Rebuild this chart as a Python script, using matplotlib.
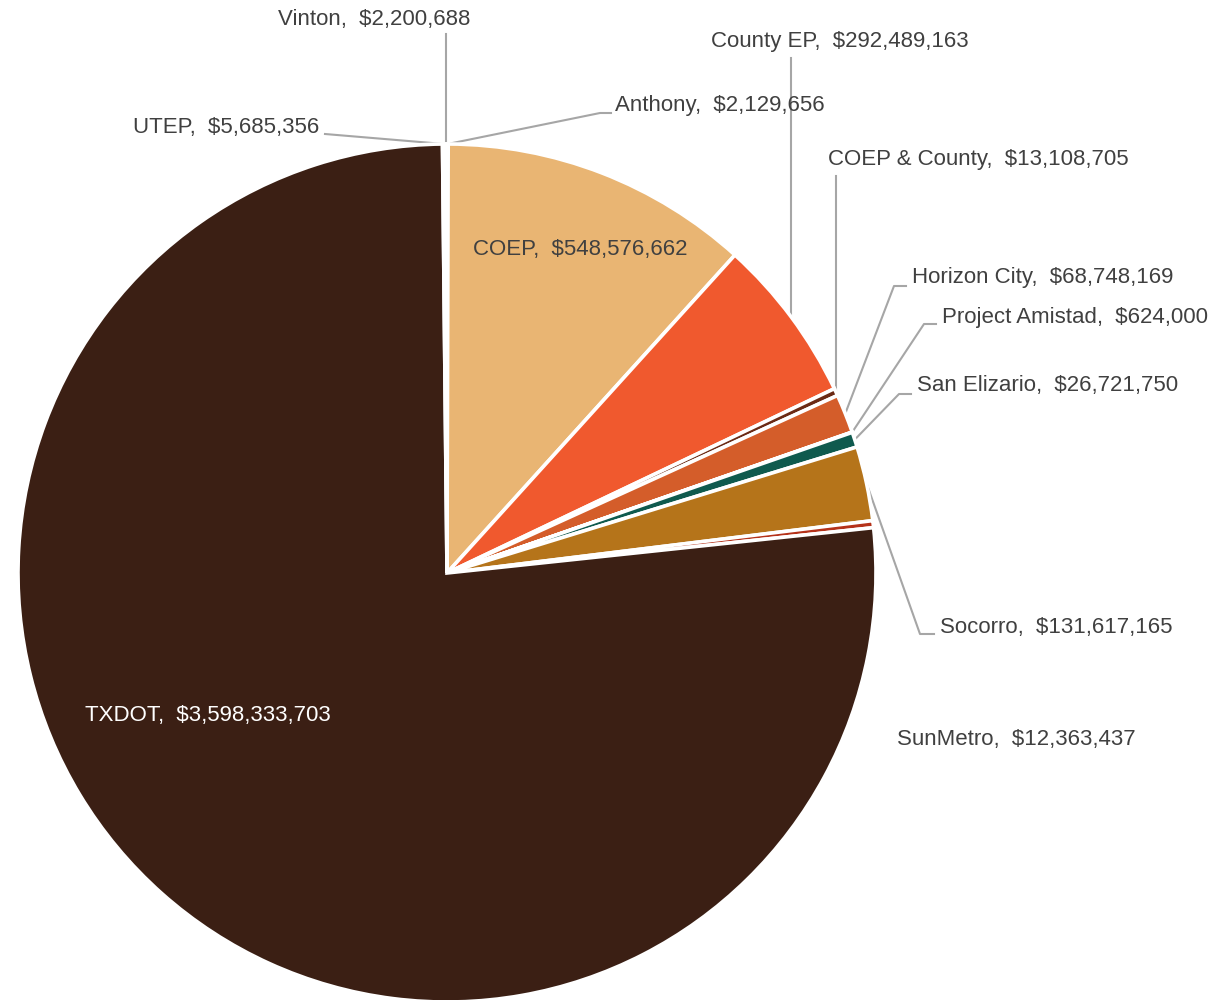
import numpy as np
import matplotlib.pyplot as plt

agencies = ["Anthony", "COEP", "County EP", "COEP & County", "Horizon City",
            "Project Amistad", "San Elizario", "Socorro", "SunMetro", "TXDOT",
            "UTEP", "Vinton"]
amounts = [2129656, 548576662, 292489163, 13108705, 68748169,
           624000, 26721750, 131617165, 12363437, 3598333703,
           5685356, 2200688]
colors = ["#C9853A", "#E9B573", "#F0592E", "#6B2A15", "#D45D2A",
          "#8C5A2B", "#0F5A4E", "#B5741A", "#B5321A", "#3B1F14",
          "#7A3B1E", "#E08A4A"]

W, H = 1222, 1000
fig = plt.figure(figsize=(W / 100, H / 100), dpi=100)
ax = fig.add_axes([0, 0, 1, 1])

cx, cy, r = 447, H - 573, 429
wedges, _ = ax.pie(amounts, colors=colors, startangle=90, counterclock=False,
                   center=(cx, cy), radius=r, frame=True,
                   wedgeprops=dict(edgecolor="white", linewidth=2.6))
ax.set_xlim(0, W)
ax.set_ylim(0, H)
ax.set_aspect("equal")
ax.axis("off")


def lbl(i):
    return f"{agencies[i]},  ${amounts[i]:,.0f}"


def anchor(i):
    w = wedges[i]
    t = np.deg2rad((w.theta1 + w.theta2) / 2)
    return cx + r * np.cos(t), cy + r * np.sin(t)


txt = dict(fontsize=16, color="#404040", family="Liberation Sans", va="center")
line = dict(color="#A6A6A6", lw=1.5, zorder=0)

# label position (pixel, y from top), alignment, leader path from label side
# a None x in the path means "straight above the anchor"
layout = {
    "Vinton": ((374, 20), "center", [(None, 34)]),
    "UTEP": ((133, 128), "left", [(325, 134)]),
    "Anthony": ((615, 105), "left", [(611, 113), (600, 113)]),
    "County EP": ((840, 42), "center", [(None, 58)]),
    "COEP & County": ((828, 160), "left", [(None, 176)]),
    "Horizon City": ((912, 278), "left", [(906, 286), (894, 286)]),
    "Project Amistad": ((942, 318), "left", [(936, 324), (924, 324)]),
    "San Elizario": ((917, 386), "left", [(911, 394), (899, 394)]),
    "Socorro": ((940, 628), "left", [(934, 634), (920, 634)]),
    "SunMetro": ((897, 740), "left", []),
}

for name, ((tx, ty), ha, path) in layout.items():
    i = agencies.index(name)
    ax.text(tx, H - ty, lbl(i), ha=ha, **txt)
    if path:
        axx, ayy = anchor(i)
        pts = [(axx if px is None else px, H - py) for px, py in path]
        pts.append((axx, ayy))
        xs, ys = zip(*pts)
        ax.plot(xs, ys, **line)

# labels inside the big slices
i = agencies.index("COEP")
ax.text(473, H - 250, lbl(i), ha="left", **txt)
i = agencies.index("TXDOT")
ax.text(85, H - 715, lbl(i), ha="left", **{**txt, "color": "white"})

fig.savefig("out.png", dpi=100)
